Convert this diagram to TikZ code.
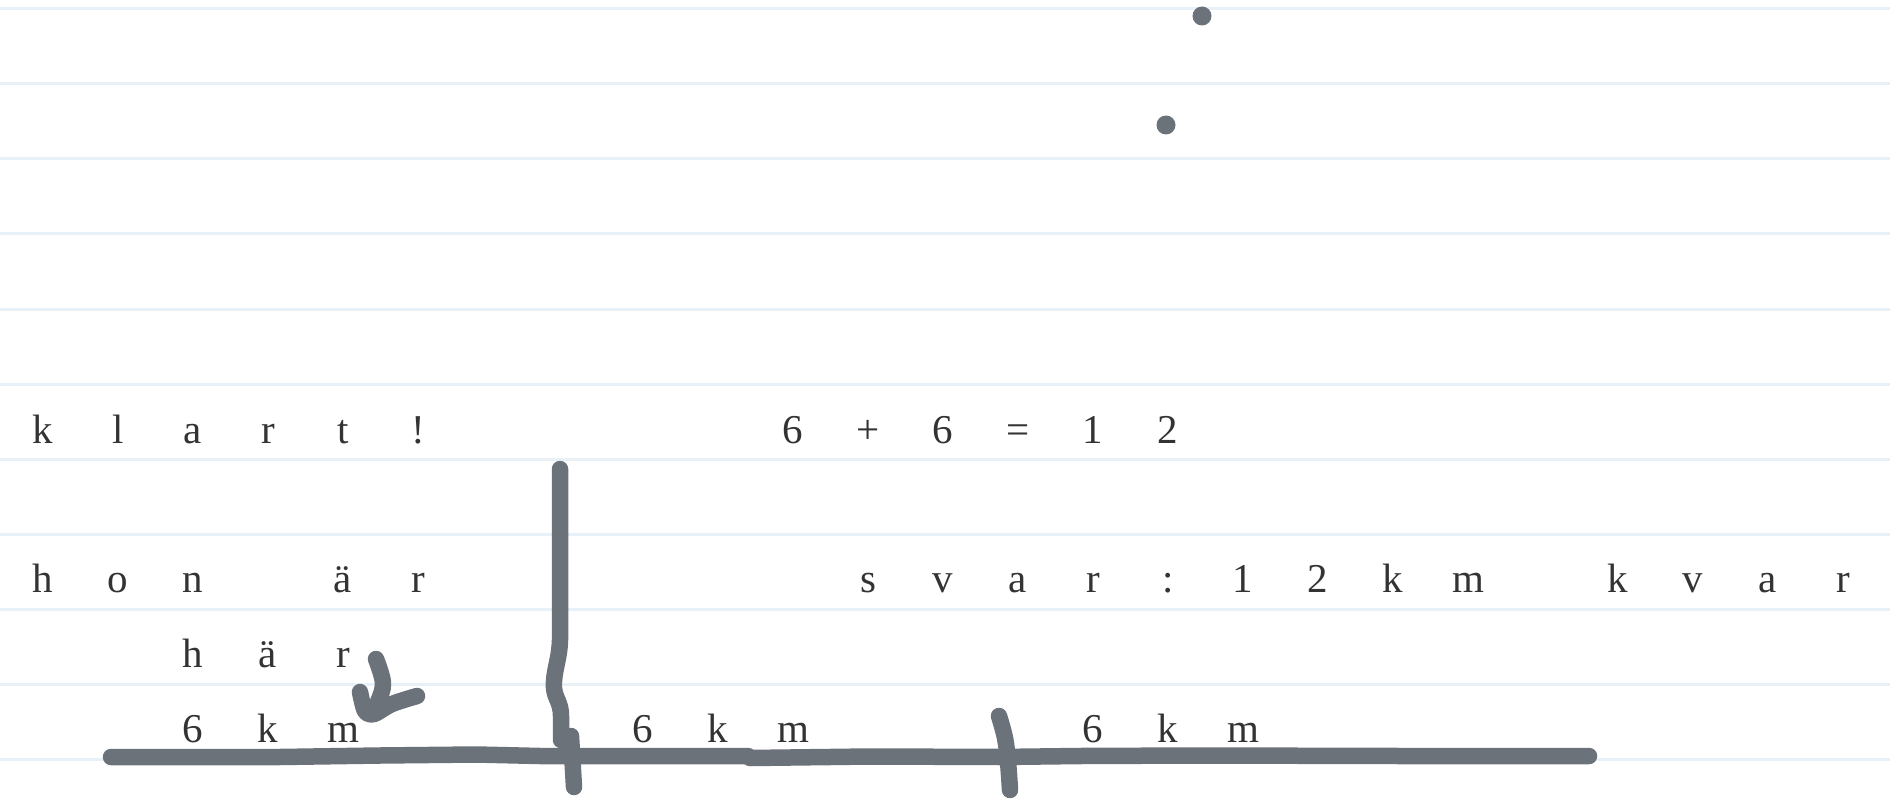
\documentclass[tikz,border=0pt]{standalone}
\usepackage{fontspec}
\setmainfont{Liberation Serif}
\definecolor{rule}{HTML}{E8F0F8}
\definecolor{pen}{HTML}{6B7279}
\definecolor{ink}{HTML}{333333}
\tikzset{
  ch/.style={inner sep=0pt, anchor=base, text=ink, font=\fontsize{41}{48}\selectfont},
  penstroke/.style={draw=pen, line width=16.5pt, line cap=round, line join=round},
  ruleline/.style={draw=rule, line width=3pt},
  penfill/.style={fill=pen}
}
\begin{document}
\begin{tikzpicture}[x=1pt,y=-1pt]
\useasboundingbox (0,0) rectangle (1890,805);
% ruled lines
\foreach \k in {0,...,10} {
  \draw[ruleline] (0,{9+75*\k}) -- (1890,{9+75*\k});
}
% dots
\fill[penfill] (1202,16) circle (9.5);
\fill[penfill] (1166,125) circle (9.5);
% row 1: klart!  6+6=12
\foreach \c/\t in {0/k,1/l,2/a,3/r,4/t,5/!,10/6,11/+,12/6,13/=,14/1,15/2} {
  \node[ch] (a\c) at ({43+75*\c},443) {\t};
}
% row 2: hon är   svar: 12 km   kvar
\foreach \c/\t in {0/h,1/o,2/n,4/ä,5/r,11/s,12/v,13/a,14/r,15/:,16/1,17/2,18/k,19/m,21/k,22/v,23/a,24/r} {
  \node[ch] (b\c) at ({43+75*\c},592) {\t};
}
% row 3: här
\foreach \c/\t in {2/h,3/ä,4/r} {
  \node[ch] (c\c) at ({43+75*\c},667) {\t};
}
% row 4: 6 km (three times)
\foreach \c/\t in {2/6,3/k,4/m,8/6,9/k,10/m,14/6,15/k,16/m} {
  \node[ch] (d\c) at ({43+75*\c},742) {\t};
}
% pen strokes
\draw[penstroke] (111,757) -- (280,757) -- (380,755.5) -- (476,754.5) -- (540,756) -- (748,756);
\draw[penstroke] (750,758) -- (870,756.5) -- (1000,757) -- (1080,756) -- (1200,755.5) -- (1400,756) -- (1589,756);
\draw[penstroke] (560,469) -- (560,640) .. controls (559.5,660) and (553,672) .. (554,688)
  .. controls (555,699) and (561,702) .. (561,716) -- (561,740);
\draw[penstroke] (571,736) -- (574,787);
\draw[penstroke] plot[smooth, tension=0.6] coordinates {(999,716) (1005,738) (1008,762) (1010,790)};
% arrow near "här"
\draw[penstroke] plot[smooth, tension=0.6] coordinates {(376,659) (383,683) (378,702) (372,712)};
\draw[penstroke] plot[smooth, tension=0.5] coordinates {(360,692) (365,711) (374,714) (392,704) (417,696)};
\end{tikzpicture}
\end{document}
